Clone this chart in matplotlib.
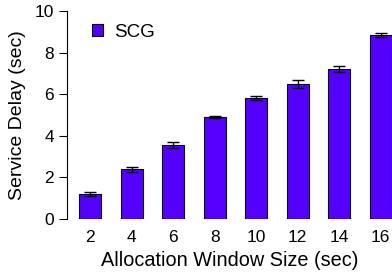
import matplotlib
matplotlib.use('Agg')
import matplotlib.pyplot as plt
import numpy as np

plt.rcParams['font.family'] = ['Liberation Sans', 'DejaVu Sans']

window = [2, 4, 6, 8, 10, 12, 14, 16]
delay = [1.2, 2.4, 3.55, 4.9, 5.8, 6.5, 7.2, 8.85]
err = [0.1, 0.12, 0.13, 0.06, 0.1, 0.2, 0.13, 0.08]

fig = plt.figure(figsize=(3.92, 2.8), dpi=100)
ax = fig.add_axes([0.171, 0.218, 0.829, 0.743])

ax.bar(window, delay, width=1.06, color='#5500ff', edgecolor='black', linewidth=0.8,
       yerr=err, capsize=4, error_kw=dict(elinewidth=1, capthick=1, ecolor='black'),
       label='SCG')

ax.set_xlim(0.89, 16.55)
ax.set_ylim(0, 10)
ax.set_yticks([0, 2, 4, 6, 8, 10])
ax.set_xticks(window)
for s in ['top', 'right', 'bottom']:
    ax.spines[s].set_visible(False)
ax.tick_params(axis='x', length=0, pad=8, labelsize=12.5)
ax.tick_params(axis='y', length=6, labelsize=12.5)
ax.set_xlabel('Allocation Window Size (sec)', fontsize=14.3, labelpad=4)
ax.set_ylabel('Service Delay (sec)', fontsize=14, labelpad=6)
ax.legend(loc='upper left', bbox_to_anchor=(0.077, 0.937), frameon=False, fontsize=13.5,
          borderaxespad=0, borderpad=0,
          handlelength=0.6, handleheight=0.6, handletextpad=0.55)

fig.savefig('out.png', dpi=100)
